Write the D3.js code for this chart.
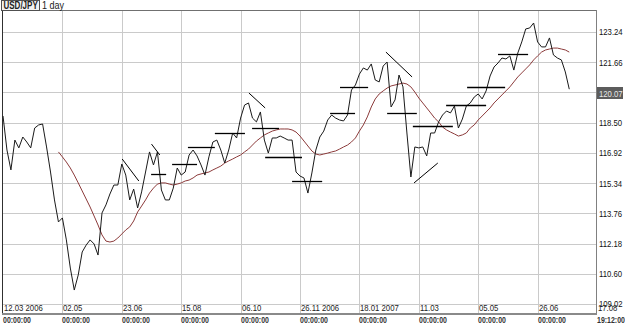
<!DOCTYPE html>
<html>
<head>
<meta charset="utf-8">
<script src="https://cdn.jsdelivr.net/npm/d3@7/dist/d3.min.js"></script>
<style>
  body { margin: 0; background: #fff; }
  svg { display: block; font-family: "Liberation Sans", "DejaVu Sans", sans-serif; }
</style>
</head>
<body>
<svg id="chart" width="625" height="325"></svg>
<script>
// bar slots (x axis is in sample slots, 15 slots between date ticks)
const slotCount = 150;
const dateTickSlots = d3.range(0, 151, 15);
const dateLabels = ["12.03 2006", "02.05", "23.06", "15.08", "06.10", "26.11 2006",
  "18.01 2007", "11.03", "05.05", "26.06", "17.08"];
const timeLabels = ["00:00:00", "00:00:00", "00:00:00", "00:00:00", "00:00:00", "00:00:00",
  "00:00:00", "00:00:00", "00:00:00", "00:00:00", "19:12:00"];
const priceTicks = [109.02, 110.60, 112.18, 113.76, 115.34, 116.92, 118.50, 120.08, 121.66, 123.24];
const lastPrice = 120.07;

// USD/JPY close, one value per slot
const closes = [118.85, 117.07, 116.03, 117.59, 117.18, 117.75, 117.49, 117.18, 118.22, 118.38,
  118.43, 117.23, 115.92, 114.46, 113.31, 113.52, 112.37, 110.90, 109.75, 110.54,
  111.74, 112.10, 112.37, 112.16, 111.58, 113.78, 114.20, 114.77, 115.24, 115.24,
  116.34, 115.76, 114.46, 115.03, 114.04, 114.88, 115.92, 116.97, 116.29, 116.97,
  114.98, 114.46, 114.46, 115.08, 116.13, 115.76, 115.92, 116.81, 117.07, 116.76,
  116.29, 115.76, 116.71, 117.49, 117.59, 117.07, 116.39, 117.07, 117.96, 117.70,
  118.74, 119.42, 119.53, 118.74, 118.54, 119.06, 117.59, 116.91, 117.70, 117.70,
  117.80, 117.70, 117.59, 117.59, 115.92, 115.71, 115.61, 114.82, 115.87, 117.07,
  117.75, 118.06, 118.64, 118.90, 118.74, 118.64, 118.59, 118.90, 120.21, 120.47,
  121.04, 121.36, 121.25, 121.57, 120.73, 120.63, 121.46, 121.67, 119.32, 119.69,
  120.99, 120.37, 117.96, 115.66, 117.23, 117.18, 117.23, 116.76, 117.96, 117.96,
  118.54, 118.90, 119.11, 119.01, 119.37, 118.22, 118.69, 119.37, 119.53, 119.84,
  120.00, 119.74, 120.16, 120.94, 121.41, 121.62, 121.88, 121.83, 121.99, 121.25,
  122.14, 122.72, 123.40, 123.45, 123.71, 122.72, 122.46, 122.46, 122.93, 122.04,
  121.88, 121.78, 121.15, 120.25];

// moving average, starts at slot 14
const movingAvg = [null, null, null, null, null, null, null, null, null, null, null, null, null, null,
  116.97, 116.71, 116.44, 116.13, 115.76, 115.35, 114.93, 114.51, 114.09, 113.62,
  113.15, 112.63, 112.31, 112.26, 112.31, 112.47, 112.68, 112.89, 113.05, 113.36,
  113.83, 114.14, 114.46, 114.82, 115.08, 115.29, 115.35, 115.35, 115.29, 115.24,
  115.29, 115.35, 115.45, 115.50, 115.61, 115.76, 115.82, 115.87, 115.92, 116.03,
  116.13, 116.23, 116.39, 116.50, 116.60, 116.71, 116.81, 116.97, 117.12, 117.33,
  117.54, 117.70, 117.86, 117.96, 118.06, 118.12, 118.17, 118.17, 118.17, 118.12,
  118.01, 117.80, 117.54, 117.28, 117.02, 116.86, 116.81, 116.86, 116.91, 116.97,
  117.02, 117.12, 117.23, 117.33, 117.49, 117.70, 118.06, 118.38, 118.80, 119.32,
  119.74, 120.00, 120.16, 120.31, 120.42, 120.47, 120.52, 120.57, 120.52, 120.37,
  120.10, 119.79, 119.53, 119.27, 119.01, 118.74, 118.54, 118.27, 118.12, 118.01,
  117.91, 117.80, 117.86, 117.96, 118.22, 118.38, 118.64, 118.85, 119.06, 119.27,
  119.53, 119.74, 119.95, 120.16, 120.37, 120.63, 120.89, 121.10, 121.31, 121.52,
  121.78, 121.99, 122.19, 122.30, 122.35, 122.40, 122.40, 122.35, 122.30, 122.19];

// drawn support / resistance levels: [from slot, to slot, price]
const levelFrom = [37.4, 42.7, 46.7, 53.5, 62.9, 66.2, 73.0, 82.6, 85.1, 97.0, 103.5, 111.9, 117.2, 125.0];
const levelTo   = [41.2, 49.0, 53.5, 61.1, 69.7, 75.5, 80.6, 88.9, 92.2, 104.5, 113.6, 122.0, 126.8, 132.6];
const levelPrice = [115.82, 116.34, 117.23, 117.96, 118.22, 116.71, 115.45, 119.01, 120.37, 119.01,
  118.33, 119.42, 120.37, 122.09];

// drawn trend lines: [slot, price] -> [slot, price]
const trendFrom = [[30.1, 116.60], [37.5, 117.38], [62.1, 120.05], [96.7, 122.19], [103.8, 115.35]];
const trendTo   = [[34.3, 115.45], [39.6, 116.81], [66.2, 119.27], [103.3, 120.89], [109.8, 116.39]];

const svg = d3.select("#chart");
const plotL = 2, plotR = 596, plotT = 10, plotB = 313;

const x = d3.scaleLinear().domain([0, slotCount]).range([3, 597]);
const y = d3.scaleLinear().domain([109.02, 123.24]).range([304, 32]);

// the terminal used a narrow bitmap font: squeeze the glyphs horizontally
function squeeze(sel, k) {
  sel.each(function () {
    const w = this.getComputedTextLength();
    d3.select(this).attr("textLength", w * k).attr("lengthAdjust", "spacingAndGlyphs");
  });
}

// grid
svg.append("g")
  .selectAll("line")
  .data(priceTicks)
  .join("line")
  .attr("x1", plotL).attr("x2", plotR)
  .attr("y1", d => Math.round(y(d)) + 0.5).attr("y2", d => Math.round(y(d)) + 0.5)
  .attr("stroke", "#cacaca");

svg.append("g")
  .selectAll("line")
  .data(dateTickSlots.slice(1, -1))
  .join("line")
  .attr("x1", d => Math.round(x(d)) + 0.5).attr("x2", d => Math.round(x(d)) + 0.5)
  .attr("y1", plotT).attr("y2", plotB)
  .attr("stroke", "#cacaca");

// frame
svg.append("line").attr("x1", plotL + 0.5).attr("x2", plotL + 0.5).attr("y1", plotT).attr("y2", plotB)
  .attr("stroke", "#303030");
svg.append("line").attr("x1", plotL).attr("x2", plotR).attr("y1", plotT + 0.5).attr("y2", plotT + 0.5)
  .attr("stroke", "#707070");
svg.append("line").attr("x1", plotR + 0.5).attr("x2", plotR + 0.5).attr("y1", plotT).attr("y2", plotB)
  .attr("stroke", "#808080");
svg.append("line").attr("x1", plotL).attr("x2", plotR + 1).attr("y1", plotB + 1).attr("y2", plotB + 1)
  .attr("stroke", "#8a8a8a").attr("stroke-width", 2);

// moving average
const line = d3.line()
  .defined(d => d != null)
  .x((d, i) => x(i))
  .y(d => y(d));

svg.append("path")
  .datum(movingAvg)
  .attr("d", line)
  .attr("fill", "none")
  .attr("stroke", "#8c3b3b")
  .attr("stroke-width", 1);

// price
svg.append("path")
  .datum(closes)
  .attr("d", line)
  .attr("fill", "none")
  .attr("stroke", "#1a1a1a")
  .attr("stroke-width", 1);

// levels
svg.append("g")
  .selectAll("line")
  .data(levelPrice)
  .join("line")
  .attr("x1", (d, i) => x(levelFrom[i]))
  .attr("x2", (d, i) => x(levelTo[i]))
  .attr("y1", d => Math.round(y(d)) + 0.5)
  .attr("y2", d => Math.round(y(d)) + 0.5)
  .attr("stroke", "#000")
  .attr("stroke-width", 1.3);

// trend lines
svg.append("g")
  .selectAll("line")
  .data(trendFrom)
  .join("line")
  .attr("x1", d => x(d[0])).attr("y1", d => y(d[1]))
  .attr("x2", (d, i) => x(trendTo[i][0])).attr("y2", (d, i) => y(trendTo[i][1]))
  .attr("stroke", "#000")
  .attr("stroke-width", 1);

// price axis on the right
const yAxis = svg.append("g")
  .attr("transform", "translate(" + plotR + ",0)")
  .call(d3.axisRight(y).tickValues(priceTicks).tickSize(0).tickPadding(3).tickFormat(d3.format(".2f")));
yAxis.select(".domain").remove();
yAxis.selectAll("text").attr("font-size", 9).attr("fill", "#111")
  .attr("font-family", "Liberation Sans, DejaVu Sans, sans-serif");
squeeze(yAxis.selectAll("text"), 0.86);

// last price marker
const lp = svg.append("g").attr("transform", "translate(597," + Math.round(y(lastPrice)) + ")");
lp.append("rect").attr("x", 0).attr("y", -6).attr("width", 26).attr("height", 12).attr("fill", "#5c5c5c");
squeeze(lp.append("text").attr("x", 2).attr("y", 3.5).attr("font-size", 9).attr("fill", "#e8e8e8")
  .text(d3.format(".2f")(lastPrice)), 0.86);

// date labels inside the plot, times underneath
squeeze(svg.append("g")
  .selectAll("text")
  .data(dateTickSlots)
  .join("text")
  .attr("x", d => Math.round(x(d)) + 1)
  .attr("y", 311)
  .attr("font-size", 9)
  .attr("fill", "#222")
  .text((d, i) => dateLabels[i]), 0.86);

squeeze(svg.append("g")
  .selectAll("text")
  .data(dateTickSlots)
  .join("text")
  .attr("x", d => Math.round(x(d)))
  .attr("y", 323)
  .attr("font-size", 8.5)
  .attr("font-weight", "bold")
  .attr("fill", "#333")
  .text((d, i) => timeLabels[i]), 0.82);

// header
svg.append("rect").attr("x", 1.5).attr("y", 0.5).attr("width", 38).attr("height", 10)
  .attr("fill", "#f2f2f2").attr("stroke", "#505050");
squeeze(svg.append("text").attr("x", 3.5).attr("y", 9).attr("font-size", 10).attr("font-weight", "bold")
  .attr("fill", "#222").text("USD/JPY"), 0.8);
squeeze(svg.append("text").attr("x", 42).attr("y", 9).attr("font-size", 10)
  .attr("fill", "#222").text("1 day"), 0.9);
</script>
</body>
</html>
